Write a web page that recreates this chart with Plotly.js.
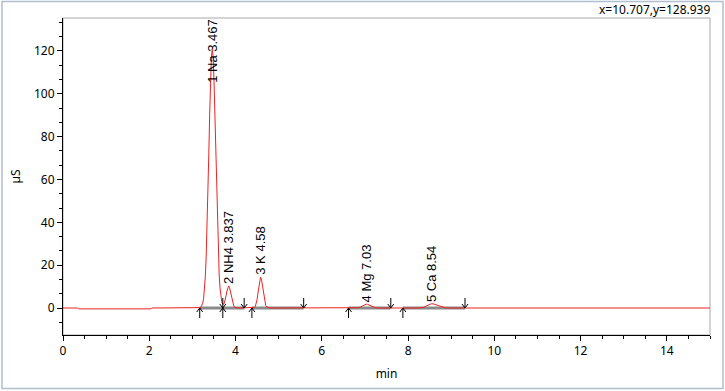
<!DOCTYPE html>
<html>
<head>
<meta charset="utf-8">
<script src="https://cdn.plot.ly/plotly-3.0.1.min.js"></script>
<style>html,body{margin:0;padding:0;background:#fff;}#chart{width:725px;height:391px;}</style>
</head>
<body>
<div id="chart"></div>
<script>
// Chromatogram signal (min, µS)
var time = [0,0.34,0.36,0.50,0.52,1.74,1.76,2.04,2.06,3.10,3.14,3.18,3.20,3.22,3.24,3.26,3.28,3.30,3.32,3.34,3.36,3.38,3.40,3.42,3.44,3.46,3.48,3.50,3.52,3.54,3.56,3.58,3.60,3.62,3.64,3.66,3.68,3.70,3.72,3.74,3.76,3.78,3.80,3.82,3.84,3.86,3.88,3.90,3.92,3.94,3.96,3.98,4.00,4.04,4.10,4.40,4.42,4.44,4.46,4.48,4.50,4.52,4.54,4.56,4.58,4.60,4.62,4.64,4.66,4.68,4.70,4.72,4.74,4.78,4.84,6.80,6.85,6.90,6.95,7.00,7.03,7.06,7.10,7.15,7.20,7.25,7.30,7.35,8.25,8.30,8.35,8.40,8.45,8.50,8.54,8.58,8.62,8.68,8.74,8.80,8.86,8.92,9.00,15.0];
var signal = [0,0,-0.4,-0.4,-0.3,-0.3,-0.4,-0.4,0,0,0.03,0.19,0.47,1.07,2.28,4.56,8.5,14.8,24.2,37.1,53.2,71.5,90,106,117,121,117.3,106.6,90.7,72.4,54,38.2,25.3,15.9,9.4,5.3,3.0,1.85,1.7,2.3,3.7,5.7,7.9,9.6,10.3,9.6,7.9,5.7,3.6,2.0,0.95,0.4,0.15,0.05,0,0,0.09,0.29,0.81,1.95,4.0,7.0,10.5,13.3,14.4,13.5,10.9,7.6,4.6,2.5,1.2,0.6,0.3,0.1,0,0,0.15,0.5,1.1,1.65,1.8,1.7,1.35,0.8,0.35,0.12,0.03,0,0,0.1,0.3,0.7,1.2,1.75,2.0,1.95,1.7,1.2,0.7,0.35,0.12,0.03,0,0];

// Peak table
var peakNo    = [1, 2, 3, 4, 5];
var peakName  = ["Na", "NH4", "K", "Mg", "Ca"];
var peakRT    = ["3.467", "3.837", "4.58", "7.03", "8.54"];
var peakStart = [3.17, 3.705, 4.38, 6.62, 7.88];
var peakEnd   = [3.705, 4.20, 5.58, 7.60, 9.32];
var labelY    = [104, 10.3, 14.4, 1.8, 2.0];

// Axis ticks
var xTicks = [0, 2, 4, 6, 8, 10, 12, 14];
var yTicks = [0, 20, 40, 60, 80, 100, 120];

var cursorText = "x=10.707,y=128.939";

var bx = [], by = [];
for (var i = 0; i < peakStart.length; i++) {
  bx.push(peakStart[i], peakEnd[i], null);
  by.push(0, 0, null);
}

var traces = [
  {x: bx, y: by, type: 'scatter', mode: 'lines', line: {color: '#8a8a8a', width: 3}, hoverinfo: 'skip', showlegend: false},
  {x: time, y: signal, type: 'scatter', mode: 'lines', line: {color: '#ee2222', width: 1}, showlegend: false}
];

var shapes = [
  // plot frame (grey)
  {type: 'rect', xref: 'paper', yref: 'paper', x0: 0, x1: 1, y0: 0, y1: 1, line: {color: '#a8a8a8', width: 1}, layer: 'below'},
  // outer window frame
  {type: 'rect', xref: 'paper', yref: 'paper', x0: -0.0943, x1: 1.0201, y0: -0.1688, y1: 1.0521, line: {color: '#aebfd0', width: 1.5}, layer: 'below'}
];
for (var j = 0; j < peakStart.length; j++) {
  shapes.push({type: 'path', xref: 'x', yref: 'y', xsizemode: 'pixel', ysizemode: 'pixel',
    xanchor: peakStart[j], yanchor: 0, path: 'M0,-10 L0,0 M-3,-4 L0,0 L3,-4', line: {color: '#000', width: 1}});
  shapes.push({type: 'path', xref: 'x', yref: 'y', xsizemode: 'pixel', ysizemode: 'pixel',
    xanchor: peakEnd[j], yanchor: 0, path: 'M0,10 L0,0 M-3,4 L0,0 L3,4', line: {color: '#000', width: 1}});
}

var annotations = [];
for (var k = 0; k < peakNo.length; k++) {
  annotations.push({
    xref: 'x', yref: 'y', x: parseFloat(peakRT[k]), y: labelY[k],
    text: peakNo[k] + ' ' + peakName[k] + ' ' + peakRT[k],
    textangle: -90, showarrow: false, xanchor: 'center', yanchor: 'bottom', yshift: 0,
    font: {family: 'Liberation Sans, Arial, sans-serif', size: 13, color: '#000'}
  });
}
annotations.push({
  xref: 'paper', yref: 'paper', x: 1.003, y: 1.026, xanchor: 'right', yanchor: 'middle',
  text: cursorText, showarrow: false,
  font: {family: 'Noto Sans, sans-serif', size: 12, color: '#000'}
});

var layout = {
  width: 725, height: 391,
  margin: {l: 63, r: 15, t: 18, b: 56, pad: 0},
  paper_bgcolor: '#ffffff', plot_bgcolor: '#ffffff',
  font: {family: 'Noto Sans, sans-serif', size: 12, color: '#000'},
  xaxis: {
    range: [0, 15], tickvals: xTicks, ticks: 'outside', ticklen: 5, tickcolor: '#000',
    showline: true, linecolor: '#000', linewidth: 1, showgrid: false, zeroline: false,
    minor: {dtick: 0.5, ticks: 'outside', ticklen: 3, tickcolor: '#000', showgrid: false},
    title: {text: 'min', standoff: 11, font: {size: 12, color: '#000'}},
    automargin: false
  },
  yaxis: {
    range: [-12.6, 135.4], tickvals: yTicks, ticks: 'outside', ticklen: 5, tickcolor: '#000',
    showline: true, linecolor: '#000', linewidth: 1, showgrid: false, zeroline: false,
    minor: {tick0: 0, dtick: 20/3, ticks: 'outside', ticklen: 3, tickcolor: '#000', showgrid: false},
    title: {text: 'µS', standoff: 10, font: {size: 12, color: '#000'}},
    automargin: false
  },
  shapes: shapes,
  annotations: annotations,
  showlegend: false
};

Plotly.newPlot('chart', traces, layout, {displayModeBar: false, staticPlot: true});
</script>
</body>
</html>
